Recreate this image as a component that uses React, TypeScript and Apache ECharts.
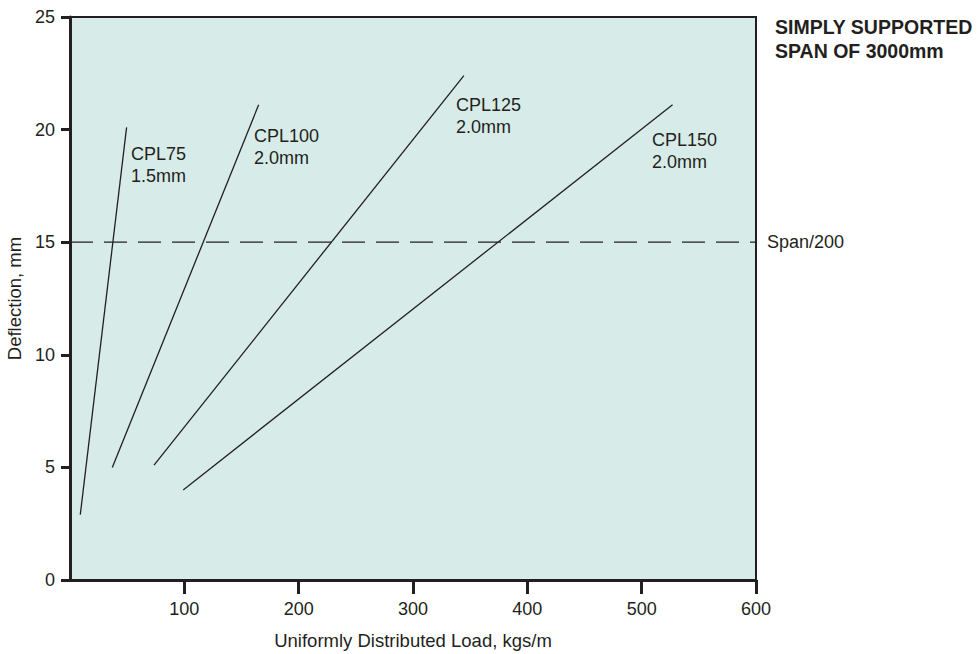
import React, { useEffect, useRef } from "react";
import * as echarts from "echarts";

// Data (x: load kgs/m, y: deflection mm)
const cpl75: [number, number][] = [[9, 2.9], [49.5, 20.1]];
const cpl100: [number, number][] = [[37, 5.0], [165, 21.1]];
const cpl125: [number, number][] = [[73.5, 5.1], [344.5, 22.4]];
const cpl150: [number, number][] = [[99, 4.0], [527, 21.1]];
const spanLimit: [number, number][] = [[0, 15], [600, 15]];

const seriesNames = ["CPL75", "CPL100", "CPL125", "CPL150"];
const seriesThickness = ["1.5mm", "2.0mm", "2.0mm", "2.0mm"];
const xTicks = [100, 200, 300, 400, 500, 600];
const yTicks = [0, 5, 10, 15, 20, 25];

const TEXT = "#231f20";
const FONT = "'Liberation Sans', Arial, Helvetica, sans-serif";

// label anchor pixels (left x, first-line centre y)
const labelAnchors: [number, number][] = [[131, 154], [254, 136], [456, 105], [652, 140]];

export default function App() {
  const ref = useRef<HTMLDivElement>(null);
  useEffect(() => {
    if (!ref.current) return;
    const chart = echarts.init(ref.current, undefined, { renderer: "svg" });
    const lines = [cpl75, cpl100, cpl125, cpl150];
    const graphics: any[] = [];
    seriesNames.forEach((n, i) => {
      const [lx, ly] = labelAnchors[i];
      graphics.push({
        type: "text", x: lx, y: ly,
        style: { text: n, fill: TEXT, font: `18px ${FONT}`, verticalAlign: "middle", align: "left" },
      });
      graphics.push({
        type: "text", x: lx, y: ly + 22,
        style: { text: seriesThickness[i], fill: TEXT, font: `18px ${FONT}`, verticalAlign: "middle", align: "left" },
      });
    });
    graphics.push({
      type: "text", x: 775, y: 27,
      style: { text: "SIMPLY SUPPORTED", fill: TEXT, font: `bold 19.5px ${FONT}`, verticalAlign: "middle", align: "left" },
    });
    graphics.push({
      type: "text", x: 775, y: 51,
      style: { text: "SPAN OF 3000mm", fill: TEXT, font: `bold 19.5px ${FONT}`, verticalAlign: "middle", align: "left" },
    });

    chart.setOption({
      animation: false,
      backgroundColor: "#ffffff",
      grid: {
        left: 70, top: 17, right: 221, bottom: 74,
        outerBoundsMode: "none", containLabel: false,
        show: true, backgroundColor: "#d7ece8", borderColor: TEXT, borderWidth: 2,
      },
      xAxis: {
        type: "value", min: 0, max: 600, interval: 100,
        name: "Uniformly Distributed Load, kgs/m",
        nameLocation: "middle", nameGap: 51,
        nameTextStyle: { color: TEXT, fontSize: 18.5, fontFamily: FONT },
        axisLine: { show: true, lineStyle: { color: TEXT, width: 3 } },
        axisTick: { show: true, length: 14, lineStyle: { color: TEXT, width: 3 }, customValues: xTicks },
        axisLabel: { color: TEXT, fontSize: 18, fontFamily: FONT, margin: 20, customValues: xTicks },
        splitLine: { show: false },
      },
      yAxis: {
        type: "value", min: 0, max: 25, interval: 5,
        name: "Deflection, mm",
        nameLocation: "middle", nameGap: 45,
        nameTextStyle: { color: TEXT, fontSize: 18.5, fontFamily: FONT },
        axisLine: { show: true, lineStyle: { color: TEXT, width: 3 } },
        axisTick: { show: true, length: 9, lineStyle: { color: TEXT, width: 3 }, customValues: yTicks },
        axisLabel: { color: TEXT, fontSize: 18, fontFamily: FONT, margin: 15, customValues: yTicks },
        splitLine: { show: false },
      },
      graphic: graphics,
      series: [
        ...lines.map((d, i) => ({
          type: "line", name: seriesNames[i], data: d, symbol: "none",
          lineStyle: { color: TEXT, width: 1.3 }, silent: true,
        })),
        {
          type: "line", name: "Span/200", data: spanLimit, symbol: "none",
          lineStyle: { color: TEXT, width: 1.3, type: [23, 11] },
          endLabel: { show: true, formatter: "Span/200", color: TEXT, fontSize: 18, fontFamily: FONT, distance: 11 },
          silent: true,
        },
      ],
    });
    return () => chart.dispose();
  }, []);
  return (
    <div
      ref={ref}
      style={{ position: "fixed", left: 0, top: 0, width: 977, height: 654, background: "#fff" }}
    />
  );
}
